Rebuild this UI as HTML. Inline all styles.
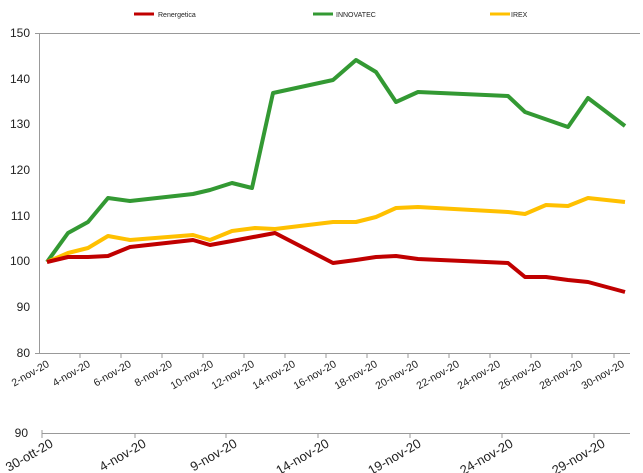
<!DOCTYPE html><html><head><meta charset="utf-8"><style>body{margin:0;background:#fff}svg{display:block}text{font-family:"Liberation Sans",sans-serif;fill:#222}</style></head><body>
<svg width="643" height="473" viewBox="0 0 643 473">
<g font-size="7"><line x1="134" y1="14" x2="154" y2="14" stroke="#c00000" stroke-width="3"/><text x="158" y="17">Renergetica</text>
<line x1="313" y1="14" x2="333" y2="14" stroke="#339933" stroke-width="3"/><text x="336" y="17">INNOVATEC</text>
<line x1="490" y1="14" x2="510" y2="14" stroke="#ffc000" stroke-width="3"/><text x="511" y="17">IREX</text></g>
<g stroke="#999" stroke-width="1">
<line x1="35" y1="33.5" x2="640" y2="33.5"/><line x1="39.5" y1="33" x2="39.5" y2="353"/>
<line x1="35" y1="353.5" x2="630" y2="353.5"/>
<line x1="42" y1="433.5" x2="630" y2="433.5"/>
</g>
<g stroke="#999"><path d="M80 353v5M121 353v5M162 353v5M203 353v5M244 353v5M285 353v5M326 353v5M367 353v5M408 353v5M449 353v5M490 353v5M531 353v5M572 353v5M614 353v5"/>
<path d="M42 430v8M135 433v5M226 433v5M318 433v5M410 433v5M502 433v5M594 433v5"/></g>
<g font-size="12" text-anchor="end"><text x="30" y="37">150</text><text x="30" y="83">140</text><text x="30" y="128">130</text><text x="30" y="174">120</text><text x="30" y="220">110</text><text x="30" y="265">100</text><text x="30" y="311">90</text><text x="30" y="357">80</text><text x="28" y="437">90</text></g>
<g font-size="10.5" text-anchor="end">
<text transform="translate(50,366) rotate(-30)">2-nov-20</text><text transform="translate(91,366) rotate(-30)">4-nov-20</text><text transform="translate(132,366) rotate(-30)">6-nov-20</text><text transform="translate(173,366) rotate(-30)">8-nov-20</text><text transform="translate(214,366) rotate(-30)">10-nov-20</text><text transform="translate(255,366) rotate(-30)">12-nov-20</text><text transform="translate(296,366) rotate(-30)">14-nov-20</text><text transform="translate(337,366) rotate(-30)">16-nov-20</text><text transform="translate(378,366) rotate(-30)">18-nov-20</text><text transform="translate(419,366) rotate(-30)">20-nov-20</text><text transform="translate(460,366) rotate(-30)">22-nov-20</text><text transform="translate(501,366) rotate(-30)">24-nov-20</text><text transform="translate(542,366) rotate(-30)">26-nov-20</text><text transform="translate(583,366) rotate(-30)">28-nov-20</text><text transform="translate(625,366) rotate(-30)">30-nov-20</text></g>
<g font-size="13" text-anchor="end">
<text transform="translate(54,446) rotate(-30)">30-ott-20</text><text transform="translate(147,446) rotate(-30)">4-nov-20</text><text transform="translate(238,446) rotate(-30)">9-nov-20</text><text transform="translate(330,446) rotate(-30)">14-nov-20</text><text transform="translate(422,446) rotate(-30)">19-nov-20</text><text transform="translate(514,446) rotate(-30)">24-nov-20</text><text transform="translate(606,446) rotate(-30)">29-nov-20</text></g>
<g fill="none" stroke-width="4" stroke-linejoin="round">
<polyline stroke="#339933" points="47,262 68,233 88,222 108,198 130,201 193,194 210,190 232,183 252,188 273,93 333,80 356,60 376,72 396,102 418,92 508,96 525,112 568,127 588,98 625,126"/>
<polyline stroke="#ffc000" points="47,262 68,253 88,248 108,236 130,240 193,235 210,240 232,231 255,228 275,229 333,222 356,222 376,217 396,208 418,207 508,212 525,214 546,205 568,206 588,198 625,202"/>
<polyline stroke="#c00000" points="47,262 68,257 88,257 108,256 130,247 193,240 210,245 232,241 275,233 333,263 356,260 376,257 396,256 418,259 508,263 525,277 546,277 568,280 588,282 625,292"/>
</g>
</svg></body></html>
